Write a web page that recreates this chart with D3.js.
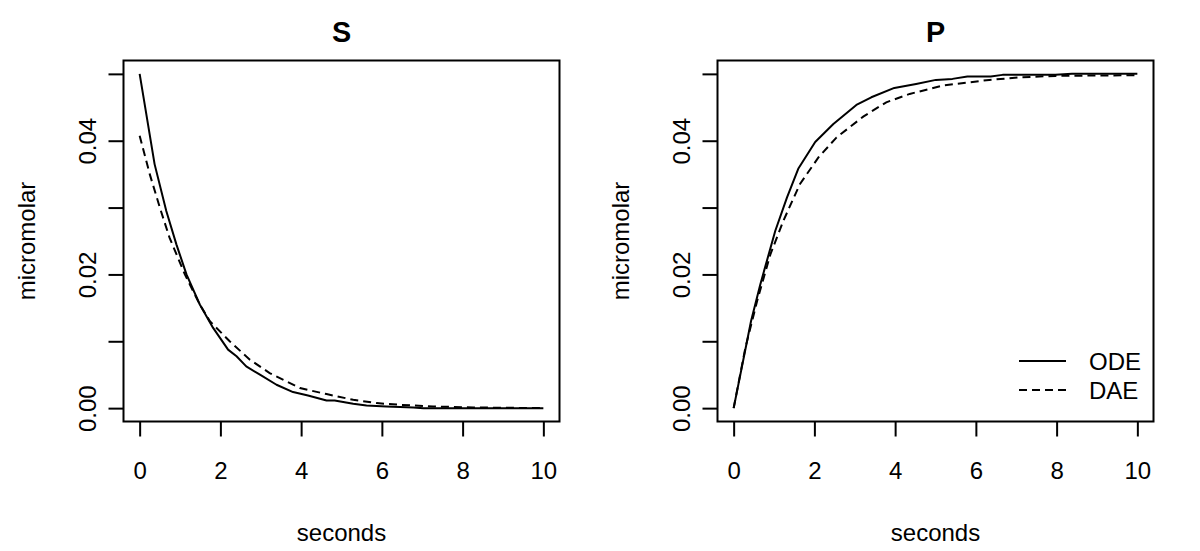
<!DOCTYPE html>
<html>
<head>
<meta charset="utf-8">
<script src="https://cdn.jsdelivr.net/npm/d3@7"></script>
<style>
  html, body { margin: 0; padding: 0; background: #fff; }
  svg { display: block; font-family: "Liberation Sans", Arial, Helvetica, sans-serif; }
</style>
</head>
<body>
<svg id="chart" width="1200" height="551"></svg>
<script>
// ---- data ----
const xTicks = [0, 2, 4, 6, 8, 10];
const yTicks = [0, 0.01, 0.02, 0.03, 0.04, 0.05];
const yLabelTicks = [0, 0.02, 0.04];

// S panel, ODE (solid)
const sOdeT = [0, 0.37, 0.66, 0.91, 1.16, 1.49, 1.82, 2.19, 2.40, 2.64, 2.98, 3.39, 3.80, 4.17, 4.63, 4.83, 5.29, 5.62, 6.11, 6.78, 7.03, 10];
const sOdeV = [0.05, 0.0365, 0.0295, 0.0245, 0.020, 0.0155, 0.012, 0.00875, 0.00775, 0.00625, 0.005, 0.0035, 0.0024, 0.0019, 0.00115, 0.00115, 0.00065, 0.0004, 0.00025, 0.0001, 0, 0];
// S panel, DAE (dashed)
const sDaeT = [0, 0.25, 0.50, 0.74, 1.12, 1.49, 1.74, 2.23, 2.73, 3.22, 3.97, 4.63, 5.29, 5.87, 6.45, 7.27, 8.26, 10];
const sDaeV = [0.04075, 0.035, 0.030, 0.0255, 0.020, 0.0155, 0.013, 0.010, 0.00725, 0.00525, 0.003, 0.0021, 0.00125, 0.00075, 0.0005, 0.00025, 0.0001, 0];

// P panel, ODE (solid)
const pOdeT = [0, 0.43, 0.66, 1.03, 1.32, 1.60, 2.02, 2.47, 3.04, 3.41, 3.98, 4.52, 5.01, 5.42, 5.79, 6.37, 6.66, 7.97, 8.38, 10];
const pOdeV = [0, 0.013, 0.0185, 0.0265, 0.0315, 0.0358, 0.0398, 0.0425, 0.04535, 0.0465, 0.0479, 0.0485, 0.0491, 0.04925, 0.0496, 0.0496, 0.04985, 0.04985, 0.05, 0.05];
// P panel, DAE (dashed)
const pDaeT = [0, 0.29, 0.58, 0.91, 1.23, 1.64, 2.10, 2.55, 3.21, 3.78, 4.36, 5.18, 6.33, 7.15, 7.97, 10];
const pDaeV = [0, 0.009, 0.016, 0.023, 0.028, 0.0335, 0.0375, 0.0405, 0.0436, 0.04575, 0.047, 0.04825, 0.0491, 0.0495, 0.0497, 0.0498];

const panelTitles = ["S", "P"];
const legendLabels = ["ODE", "DAE"];
const xTitle = "seconds";
const yTitle = "micromolar";

// ---- layout ----
const svg = d3.select("#chart");
const FONT = 24;
const DASH = "8,5";
const panels = [
  { left: 123.5, title: panelTitles[0], ode: [sOdeT, sOdeV], dae: [sDaeT, sDaeV], legend: false },
  { left: 717.5, title: panelTitles[1], ode: [pOdeT, pOdeV], dae: [pDaeT, pDaeV], legend: true }
];
const boxW = 436, boxTop = 60.5, boxBottom = 421.5;

panels.forEach(p => {
  const right = p.left + boxW;
  const ext = 0.04;
  const x = d3.scaleLinear().domain([0 - 10 * ext, 10 + 10 * ext]).range([p.left, right]);
  const y = d3.scaleLinear().domain([0 - 0.05 * ext, 0.05 + 0.05 * ext]).range([boxBottom, boxTop]);
  const g = svg.append("g");

  // data lines
  const line = d3.line().x(d => x(d[0])).y(d => y(d[1]));
  g.append("path")
    .datum(d3.zip(p.ode[0], p.ode[1]))
    .attr("d", line).attr("fill", "none").attr("stroke", "#000")
    .attr("stroke-width", 2).attr("stroke-linejoin", "round");
  g.append("path")
    .datum(d3.zip(p.dae[0], p.dae[1]))
    .attr("d", line).attr("fill", "none").attr("stroke", "#000")
    .attr("stroke-width", 2).attr("stroke-dasharray", DASH);

  // box
  g.append("rect").attr("x", p.left).attr("y", boxTop)
    .attr("width", boxW).attr("height", boxBottom - boxTop)
    .attr("fill", "none").attr("stroke", "#000").attr("stroke-width", 2);

  // x axis
  const xa = g.append("g").attr("transform", `translate(0,${boxBottom})`)
    .call(d3.axisBottom(x).tickValues(xTicks).tickSize(15).tickFormat(d3.format("d")));
  xa.select(".domain").remove();
  xa.selectAll(".tick line").attr("stroke-width", 2);
  xa.selectAll(".tick text").attr("y", 57.8).attr("dy", 0)
    .attr("font-size", FONT).attr("font-family", "Liberation Sans, Arial, sans-serif").attr("fill", "#000");

  // y axis
  const ya = g.append("g").attr("transform", `translate(${p.left},0)`)
    .call(d3.axisLeft(y).tickValues(yTicks).tickSize(15)
      .tickFormat(d => yLabelTicks.some(v => Math.abs(v - d) < 1e-9) ? d3.format(".2f")(d) : ""));
  ya.select(".domain").remove();
  ya.selectAll(".tick line").attr("stroke-width", 2);
  ya.selectAll(".tick text")
    .attr("x", 0).attr("y", -27.5).attr("dy", 0)
    .attr("transform", "rotate(-90)")
    .attr("text-anchor", "middle")
    .attr("font-size", FONT).attr("font-family", "Liberation Sans, Arial, sans-serif").attr("fill", "#000");

  // axis titles
  const cx = (p.left + right) / 2;
  g.append("text").attr("x", cx).attr("y", 541)
    .attr("text-anchor", "middle").attr("font-size", FONT).text(xTitle);
  const cy = (boxTop + boxBottom) / 2;
  g.append("text")
    .attr("transform", `translate(${p.left - 88.5},${cy}) rotate(-90)`)
    .attr("text-anchor", "middle").attr("font-size", FONT).text(yTitle);

  // panel title
  g.append("text").attr("x", cx).attr("y", 42)
    .attr("text-anchor", "middle").attr("font-size", 28.8).attr("font-weight", "bold").text(p.title);

  // legend
  if (p.legend) {
    const lx0 = 1019, lx1 = 1066, tx = 1089;
    const rows = [{ y: 361, dash: null, label: legendLabels[0] }, { y: 390, dash: DASH, label: legendLabels[1] }];
    rows.forEach(r => {
      const ln = g.append("line").attr("x1", lx0).attr("x2", lx1).attr("y1", r.y).attr("y2", r.y)
        .attr("stroke", "#000").attr("stroke-width", 2);
      if (r.dash) ln.attr("stroke-dasharray", r.dash);
      g.append("text").attr("x", tx).attr("y", r.y + 8.5).attr("font-size", FONT).text(r.label);
    });
  }
});
</script>
</body>
</html>
